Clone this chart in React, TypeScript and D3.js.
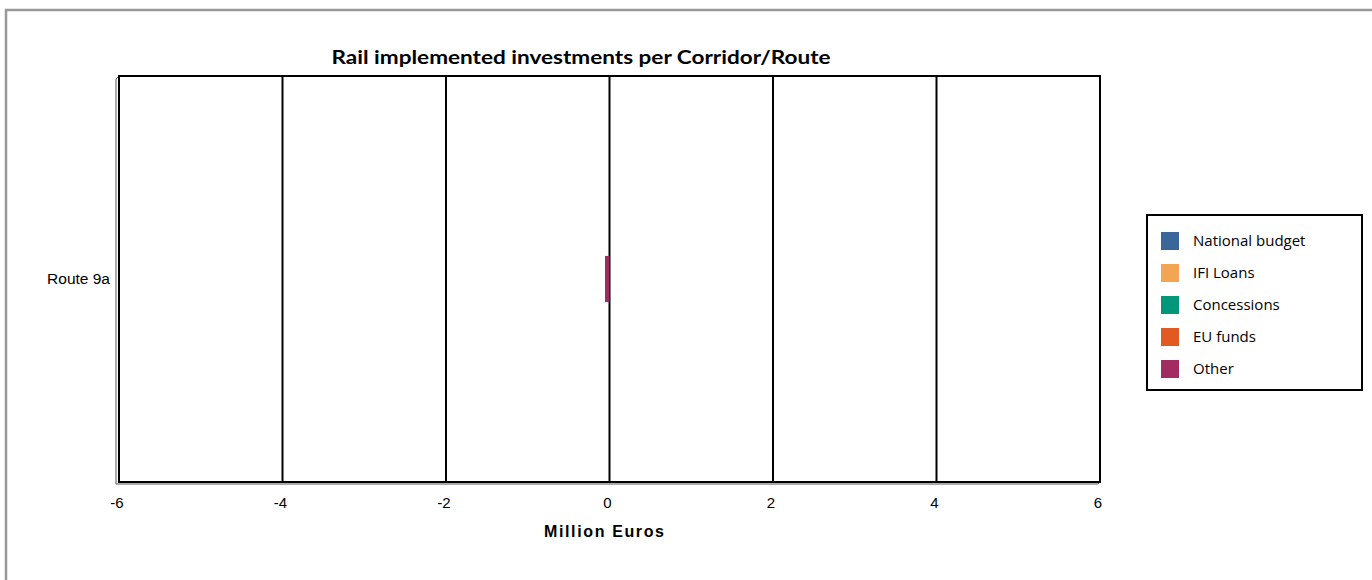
import React from "react";
import * as d3 from "d3";

const categories = ["Route 9a"];
const seriesNames = ["National budget", "IFI Loans", "Concessions", "EU funds", "Other"];
const nationalBudget = [0];
const ifiLoans = [0];
const concessions = [0];
const euFunds = [0];
const other = [-0.055];
const xTicks = [-6, -4, -2, 0, 2, 4, 6];
const colors = ["#3A6699", "#F2A552", "#00977A", "#E05A22", "#A02C61"];

const W = 1372;
const H = 580;
const left = 119;
const right = 1100;
const top = 76;
const bottom = 482;

export default function App() {
  const x = d3.scaleLinear().domain([-6, 6]).range([left, right]);
  const y = d3
    .scaleBand<string>()
    .domain(categories)
    .range([top, bottom])
    .paddingInner(0)
    .paddingOuter(3.9);

  const seriesValues = [nationalBudget, ifiLoans, concessions, euFunds, other];
  const rows = categories.map((c, i) => {
    const o: any = { cat: c };
    seriesNames.forEach((s, k) => (o[s] = seriesValues[k][i]));
    return o;
  });
  const stack = d3
    .stack<any>()
    .keys(seriesNames)
    .offset(d3.stackOffsetDiverging);
  const stacked = stack(rows);

  return (
    <svg
      width={W}
      height={H}
      style={{ position: "absolute", left: 0, top: 0, background: "#fff" }}
      fontFamily="'Liberation Sans', Arial, sans-serif"
    >
      {/* outer chart frame */}
      <rect x={6} y={10} width={W} height={H} fill="#fff" stroke="#999" strokeWidth={2.5} />

      {/* title */}
      <text
        x={581}
        y={64}
        textAnchor="middle"
        fontFamily="Lato, 'Open Sans', sans-serif"
        fontWeight="bold"
        fontSize={19}
        textLength={499}
        lengthAdjust="spacingAndGlyphs"
        fill="#000"
      >
        Rail implemented investments per Corridor/Route
      </text>

      {/* 3D wall offset lines */}
      <path
        d={`M${left},${top} L${left - 3},${top + 3} L${left - 3},${bottom + 2} L${right - 2},${bottom + 2} L${right},${bottom}`}
        fill="none"
        stroke="#555"
        strokeWidth={1}
      />

      {/* gridlines */}
      {xTicks.map((t) => (
        <line key={t} x1={x(t)} x2={x(t)} y1={top} y2={bottom} stroke="#000" strokeWidth={2} />
      ))}
      {/* plot border */}
      <rect x={left} y={top} width={right - left} height={bottom - top} fill="none" stroke="#000" strokeWidth={2} />

      {/* bars */}
      {stacked.map((s, k) =>
        s.map((d, i) => {
          const x0 = x(Math.min(d[0], d[1]));
          const x1 = x(Math.max(d[0], d[1]));
          if (x1 - x0 < 0.01) return null;
          const yy = y(categories[i])!;
          return (
            <rect
              key={`${k}-${i}`}
              x={x0}
              y={yy}
              width={x1 - x0}
              height={y.bandwidth()}
              fill={colors[k]}
            />
          );
        })
      )}

      {/* x tick labels */}
      {xTicks.map((t) => (
        <text key={t} x={x(t) - 2} y={508} textAnchor="middle" fontSize={15} fill="#000">
          {t}
        </text>
      ))}
      <text
        x={604}
        y={537}
        textAnchor="middle"
        fontSize={16}
        fontWeight="bold"
        textLength={120}
        lengthAdjust="spacing"
        fill="#000"
      >
        Million Euros
      </text>

      {/* category labels */}
      {categories.map((c) => (
        <text
          key={c}
          x={110}
          y={y(c)! + y.bandwidth() / 2 + 5}
          textAnchor="end"
          fontSize={15.5}
          fill="#000"
        >
          {c}
        </text>
      ))}

      {/* legend */}
      <rect x={1147} y={215} width={215} height={175} fill="#fff" stroke="#000" strokeWidth={2} />
      {seriesNames.map((s, k) => (
        <g key={s} transform={`translate(1161, ${232 + k * 32})`}>
          <rect x={0} y={0} width={18} height={18} fill={colors[k]} />
          <text
            x={32}
            y={14}
            fontSize={15}
            fontFamily="'Open Sans', 'Noto Sans', sans-serif"
            fill="#000"
          >
            {s}
          </text>
        </g>
      ))}
    </svg>
  );
}
